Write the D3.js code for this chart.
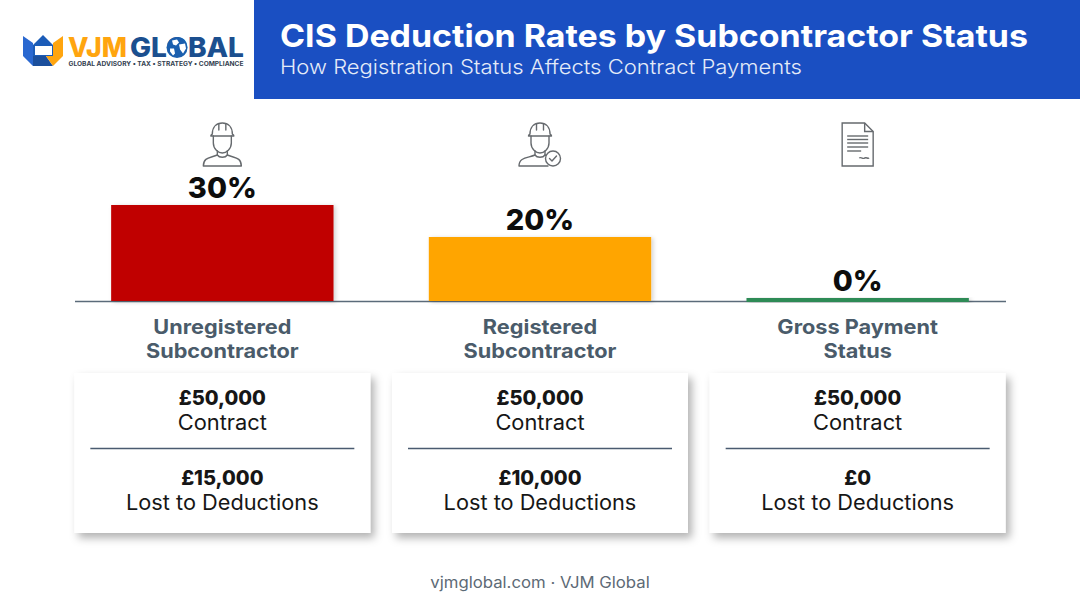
<!DOCTYPE html>
<html><head><meta charset="utf-8">
<script src="https://cdn.jsdelivr.net/npm/d3@7"></script>
<style>
html,body{margin:0;padding:0;background:#fff}
svg{display:block}
text{font-family:Inter,"Noto Sans",sans-serif;text-anchor:middle}
</style></head><body><div id="chart"></div>
<script>
const categories=["Unregistered","Registered","Gross Payment"];
const categoriesLine2=["Subcontractor","Subcontractor","Status"];
const rates=[30,20,0];
const barColors=["#c00000","#ffa500","#2e8b57"];
const contractLabels=["£50,000","£50,000","£50,000"];
const lostLabels=["£15,000","£10,000","£0"];
const icons=["worker","workerCheck","document"];
const titleText="CIS Deduction Rates by Subcontractor Status";
const subtitleText="How Registration Status Affects Contract Payments";
const footerText="vjmglobal.com · VJM Global";

const W=1080,H=603,base=301;
const svg=d3.select("#chart").append("svg").attr("width",W).attr("height",H);
const defs=svg.append("defs");
const sh=defs.append("filter").attr("id","cardShadow").attr("x","-10%").attr("y","-10%").attr("width","125%").attr("height","125%");
sh.append("feDropShadow").attr("dx",4).attr("dy",5).attr("stdDeviation",4.5).attr("flood-color","#000").attr("flood-opacity",.3);
const bs=defs.append("filter").attr("id","barShadow").attr("x","-5%").attr("y","-5%").attr("width","110%").attr("height","110%");
bs.append("feDropShadow").attr("dx",2).attr("dy",1).attr("stdDeviation",2).attr("flood-color","#000").attr("flood-opacity",.18);

const x=d3.scaleBand().domain(categories).range([63.5,1016.5]).paddingInner(.3).paddingOuter(.15);
const y=d3.scaleLinear().domain([0,30]).range([base,205]);
const cx=d=>x(d)+x.bandwidth()/2;
// widen a text by a factor, standing in for the wider typeface of the original
const stretch=(t,f)=>t.attr("textLength",t.node().getComputedTextLength()*f).attr("lengthAdjust","spacingAndGlyphs");

// header
svg.append("rect").attr("x",254).attr("y",0).attr("width",826).attr("height",99).attr("fill","#1a4fc2");
svg.append("text").text(titleText).attr("x",654).attr("y",47).attr("fill","#fff")
  .attr("font-size",31.5).attr("font-weight",700).attr("textLength",748).attr("lengthAdjust","spacingAndGlyphs");
svg.append("text").text(subtitleText).attr("x",541).attr("y",74).attr("fill","#e4ebf8")
  .attr("font-size",20).attr("font-weight",300).attr("textLength",522).attr("lengthAdjust","spacingAndGlyphs");

// logo
const logo=svg.append("g");
logo.append("path").attr("d","M23 36 L33 43 L33 56 L40 66 L33 66 L23 56Z").attr("fill","#2a68d0");
logo.append("path").attr("d","M63 36 L53 43 L53 66 L63 56Z").attr("fill","#ffa50f");
logo.append("path").attr("d","M33 56 L46 56 L53 66 L33 66Z").attr("fill","#1b4f9c");
logo.append("path").attr("d","M46 56 L53 56 L53 66Z").attr("fill","#ffa50f");
logo.append("path").attr("d","M33 45 L43 35 L53 45 L53 56 L33 56Z").attr("fill","#1b5cb8");
logo.append("rect").attr("x",35).attr("y",46).attr("width",17).attr("height",9).attr("fill","#fff");
logo.append("text").text("VJM").attr("x",97.5).attr("y",57).attr("font-size",27).attr("font-weight",800).attr("fill","#ffa50f").attr("textLength",59).attr("lengthAdjust","spacingAndGlyphs");
const gl=logo.append("text").text("GLOBAL").attr("x",187).attr("y",57).attr("font-size",27).attr("font-weight",800).attr("fill","#1b4f8f").attr("textLength",114).attr("lengthAdjust","spacingAndGlyphs");
const oBox=gl.node().getExtentOfChar(2);
const ox=oBox.x+oBox.width/2,oy=47.5;
logo.append("circle").attr("cx",ox).attr("cy",oy).attr("r",10.5).attr("fill","#1b5fae");
logo.append("path").attr("d",`M${ox-5} ${oy-7} l5 -1 l2 3 l-3 3 l-3 -1Z M${ox+2} ${oy-3} l6 -1 l1 5 l-3 5 l-3 -4Z M${ox-7} ${oy+1} l4 0 l1 5 l-2 2 l-3 -4Z`).attr("fill","#fff");
logo.append("text").text("GLOBAL ADVISORY • TAX • STRATEGY • COMPLIANCE").attr("x",156).attr("y",66).attr("font-size",6.4).attr("font-weight",700).attr("fill","#33414f").attr("textLength",175).attr("lengthAdjust","spacingAndGlyphs");

// icons
function worker(g,check){
  const s=g.append("g").attr("fill","none").attr("stroke","#666a6e").attr("stroke-width",1.4).attr("stroke-linejoin","round").attr("stroke-linecap","round");
  s.append("path").attr("d","M-10 -10 C-10 -17 -6 -21 0 -21 C6 -21 10 -17 10 -10 C10.5 -9.5 11.5 -9 11.5 -8 L-11.5 -8 C-11.5 -9 -10.5 -9.5 -10 -10Z");
  s.append("path").attr("d","M-3.5 -20 L-3.5 -14 M3.5 -20 L3.5 -14");
  s.append("path").attr("d","M-9 -8 L-9 -1 C-9 5 -4 9 0 9 C4 9 9 5 9 -1 L9 -8");
  s.append("path").attr("d","M-5 7 L-5 11 C-3 14 3 14 5 11 L5 7");
  s.append("path").attr("d",check?"M-5 11 C-12 14 -21 13 -21 22 L8 22 M5 11 C7 12 9 12.5 11 13":"M-5 11 C-12 14 -19 13 -19 22 L19 22 C19 13 12 14 5 11");
  if(check){
    s.append("circle").attr("cx",13).attr("cy",14.5).attr("r",7.5).attr("fill","#fff");
    s.append("path").attr("d","M9.5 14.5 L12 17 L16.5 12");
  }
}
function doc(g){
  const s=g.append("g").attr("fill","none").attr("stroke","#666a6e").attr("stroke-width",1.4);
  s.append("path").attr("d","M-15.5 -21.5 L7 -21.5 L15.5 -13 L15.5 21.5 L-15.5 21.5 Z");
  s.append("path").attr("d","M7 -21.5 L7 -13 L15.5 -13");
  [-8.5,-5,-1.5,2.5].forEach(v=>s.append("path").attr("d",`M-10.5 ${v} L10.5 ${v}`));
  s.append("path").attr("d","M-10.5 6.5 L3.5 6.5");
  s.append("path").attr("d","M1.5 13.5 C4 12 5 15 7 13.5 C9 12.5 10 14.5 11.5 13.5");
}
categories.forEach((c,i)=>{
  const g=svg.append("g").attr("transform",`translate(${cx(c)},${icons[i]==="document"?144.5:144})`);
  if(icons[i]==="document")doc(g);else worker(g,icons[i]==="workerCheck");
});

// axis line, then bars on top of it
svg.append("line").attr("x1",75).attr("x2",1006).attr("y1",301.5).attr("y2",301.5).attr("stroke","#5b6b7a").attr("stroke-width",1.5);
const minThick=4;
svg.selectAll("rect.bar").data(rates).join("rect").attr("class","bar")
  .attr("x",(d,i)=>x(categories[i])).attr("width",x.bandwidth())
  .attr("y",d=>Math.min(y(d),base-minThick+1)).attr("height",d=>Math.max(base-y(d),minThick))
  .attr("fill",(d,i)=>barColors[i]).attr("filter","url(#barShadow)");
svg.selectAll("text.val").data(rates).join("text").attr("class","val")
  .text(d=>d+"%").attr("x",(d,i)=>cx(categories[i])).attr("y",d=>Math.min(y(d),base-3)-7)
  .attr("font-size",29).attr("font-weight",800).attr("fill","#0d0d0d");

// category labels
categories.forEach((c,i)=>{
  [[c,334],[categoriesLine2[i],358]].forEach(([s,yy])=>{
    stretch(svg.append("text").text(s).attr("x",cx(c)).attr("y",yy).attr("font-size",20).attr("font-weight",700).attr("fill","#4a5b6a"),1.085);
  });
});

// cards
categories.forEach((c,i)=>{
  const m=cx(c),g=svg.append("g");
  g.append("rect").attr("x",m-148).attr("y",373).attr("width",296).attr("height",160).attr("fill","#fff").attr("filter","url(#cardShadow)");
  g.append("line").attr("x1",m-132).attr("x2",m+132).attr("y1",448.5).attr("y2",448.5).attr("stroke","#4a5b70").attr("stroke-width",1.3);
  const t=(s,yy,w,fs)=>g.append("text").text(s).attr("x",m).attr("y",yy).attr("font-size",fs).attr("font-weight",w).attr("fill","#161616");
  t(contractLabels[i],404.5,800,20);
  stretch(t("Contract",430,400,21),1.04);
  t(lostLabels[i],484.5,800,20);
  stretch(t("Lost to Deductions",510,400,21),1.035);
});

stretch(svg.append("text").text(footerText).attr("x",540).attr("y",588).attr("font-size",15.5).attr("fill","#5d6a76"),1.08);
</script></body></html>
